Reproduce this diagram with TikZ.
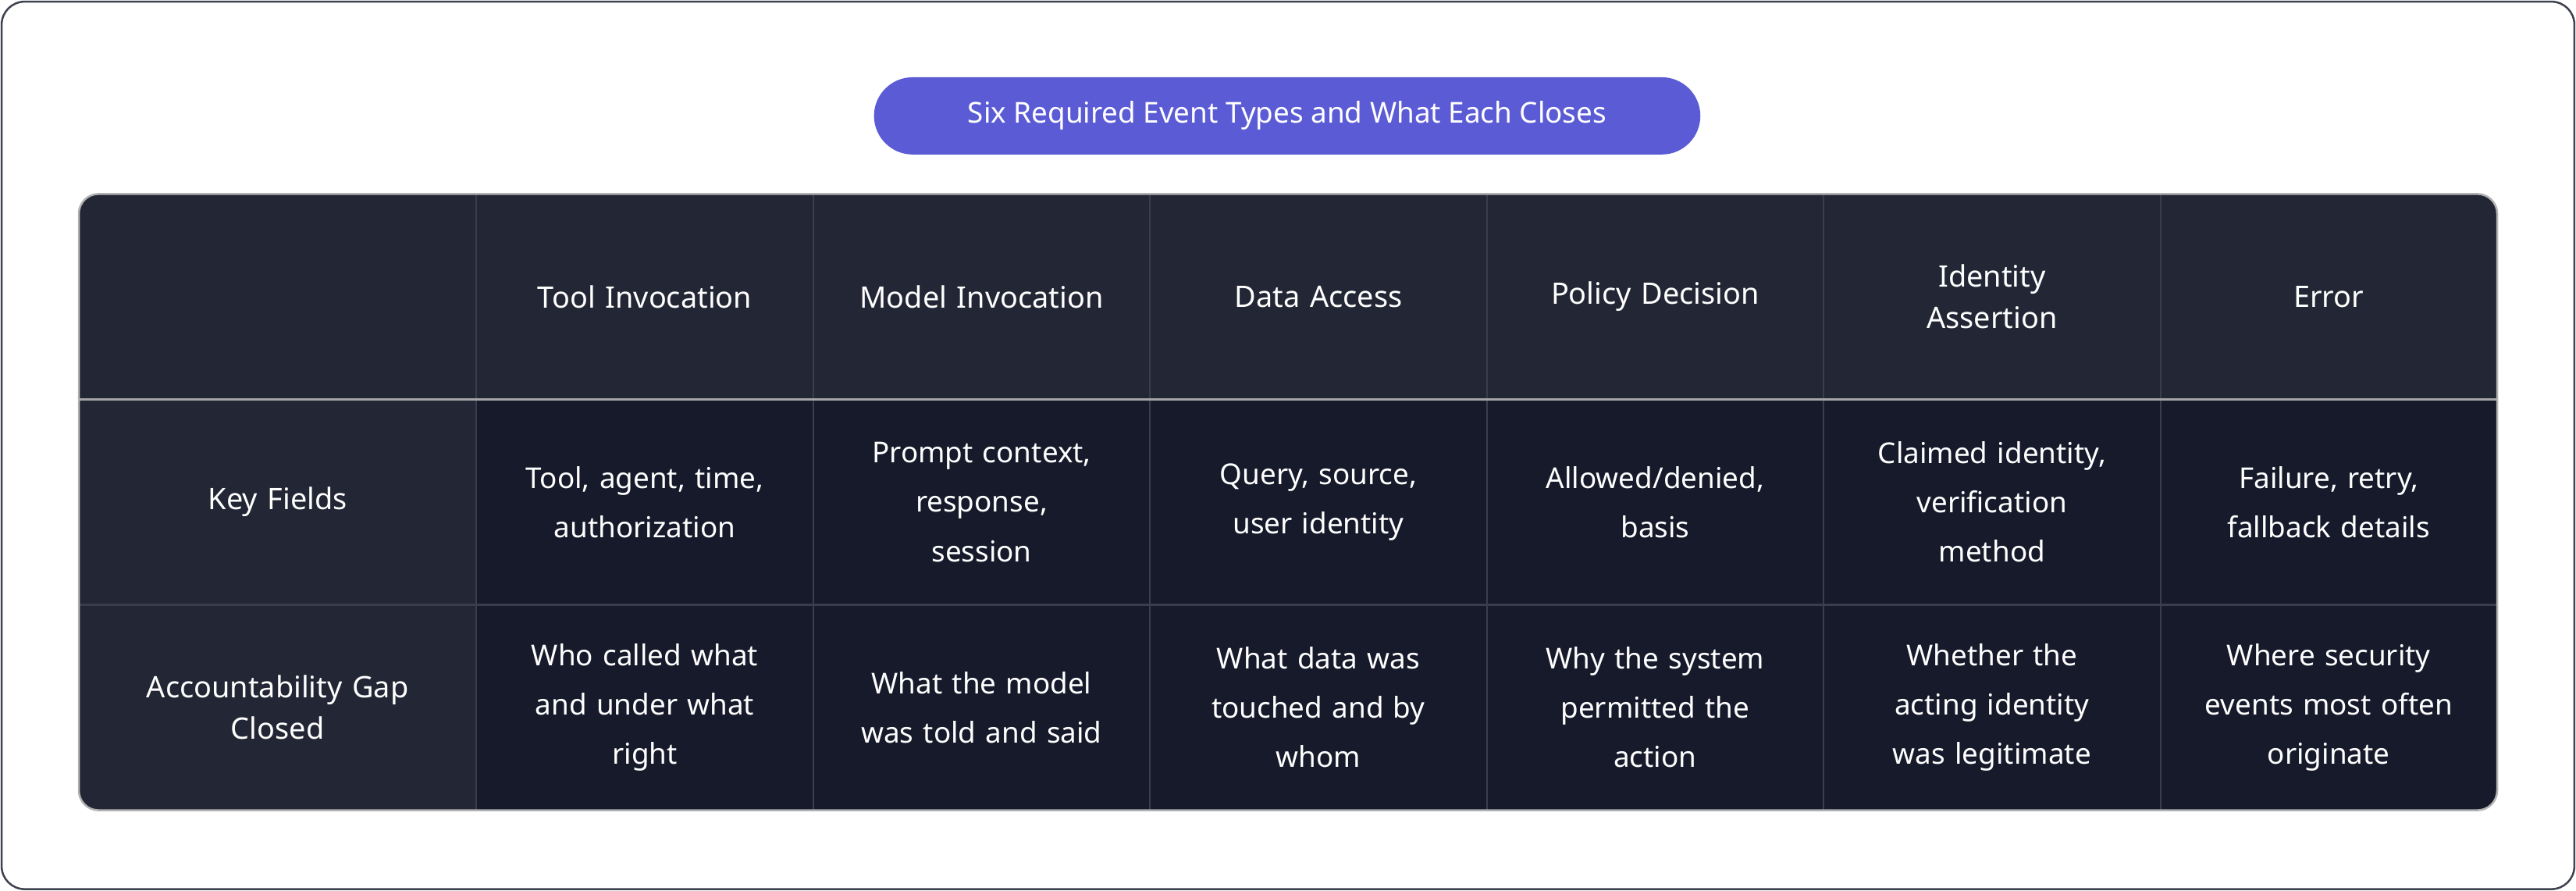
\documentclass[tikz,border=0pt]{standalone}
\usepackage{fontspec}
\setmainfont{Noto Sans}
\definecolor{pill}{HTML}{5B5BD6}
\definecolor{headbg}{HTML}{232634}
\definecolor{cellbg}{HTML}{171A2B}
\definecolor{gridc}{HTML}{3A3D4C}
\definecolor{framec}{HTML}{3F4250}
\begin{document}
\begin{tikzpicture}[x=1pt,y=-1pt,
  head/.style={text=white,font=\fontsize{18}{21}\selectfont\bfseries,align=center,text width=180pt},
  cell/.style={text=white,font=\fontsize{17.5}{30}\selectfont,align=center,text width=180pt},
  title/.style={fill=pill,text=white,rounded corners=23.5pt,minimum width=503pt,minimum height=47pt,font=\fontsize{17.5}{21}\selectfont\bfseries}]
\def\ha{118};
\def\hb{243};
\def\hc{368};
\def\hd{493};

\useasboundingbox (0,0) rectangle (1568,542);
\draw[framec,line width=1.2pt,rounded corners=14pt] (1,1) rectangle (1567,541);

\node[title] (T) at (783.5,70.5) {Six Required Event Types and What Each Closes};

% table body
\fill[headbg,rounded corners=12pt] (48,\ha) rectangle (1520,\hd);
\begin{scope}
\clip[rounded corners=12pt] (48,\ha) rectangle (1520,\hd);
\fill[cellbg] (290,\hb) rectangle (1520,\hd);
\end{scope}
\foreach \x in {290,495,700,905,1110,1315}
  \draw[gridc,line width=1pt] (\x,\ha) -- (\x,\hd);
\draw[gray!70,line width=1.2pt] (48,\hb) -- (1520,\hb);
\draw[gridc,line width=1pt] (48,\hc) -- (1520,\hc);
\draw[gray!60,line width=1.2pt,rounded corners=12pt] (48,\ha) rectangle (1520,\hd);

% header row
\node[head] (h1) at (392.5,180.5) {Tool Invocation};
\node[head] (h2) at (597.5,180.5) {Model Invocation};
\node[head] (h3) at (802.5,180.5) {Data Access};
\node[head] (h4) at (1007.5,180.5) {Policy Decision};
\node[head,text width=150pt] (h5) at (1212.5,180.5) {Identity\\[4pt]Assertion};
\node[head] (h6) at (1417.5,180.5) {Error};

% row labels
\node[head] (r1) at (169,305.5) {Key Fields};
\node[head,text width=220pt] (r2) at (169,430.5) {Accountability Gap\\[4pt]Closed};

% key fields
\node[cell] (k1) at (392.5,305.5) {Tool, agent, time,\\authorization};
\node[cell] (k2) at (597.5,305.5) {Prompt context,\\response,\\session};
\node[cell] (k3) at (802.5,305.5) {Query, source,\\user identity};
\node[cell] (k4) at (1007.5,305.5) {Allowed/denied,\\basis};
\node[cell] (k5) at (1212.5,305.5) {Claimed identity,\\verification\\method};
\node[cell] (k6) at (1417.5,305.5) {Failure, retry,\\fallback details};

% gaps
\node[cell] (g1) at (392.5,430.5) {Who called what\\and under what\\right};
\node[cell] (g2) at (597.5,430.5) {What the model\\was told and said};
\node[cell] (g3) at (802.5,430.5) {What data was\\touched and by\\whom};
\node[cell] (g4) at (1007.5,430.5) {Why the system\\permitted the\\action};
\node[cell] (g5) at (1212.5,430.5) {Whether the\\acting identity\\was legitimate};
\node[cell] (g6) at (1417.5,430.5) {Where security\\events most often\\originate};
\end{tikzpicture}
\end{document}
